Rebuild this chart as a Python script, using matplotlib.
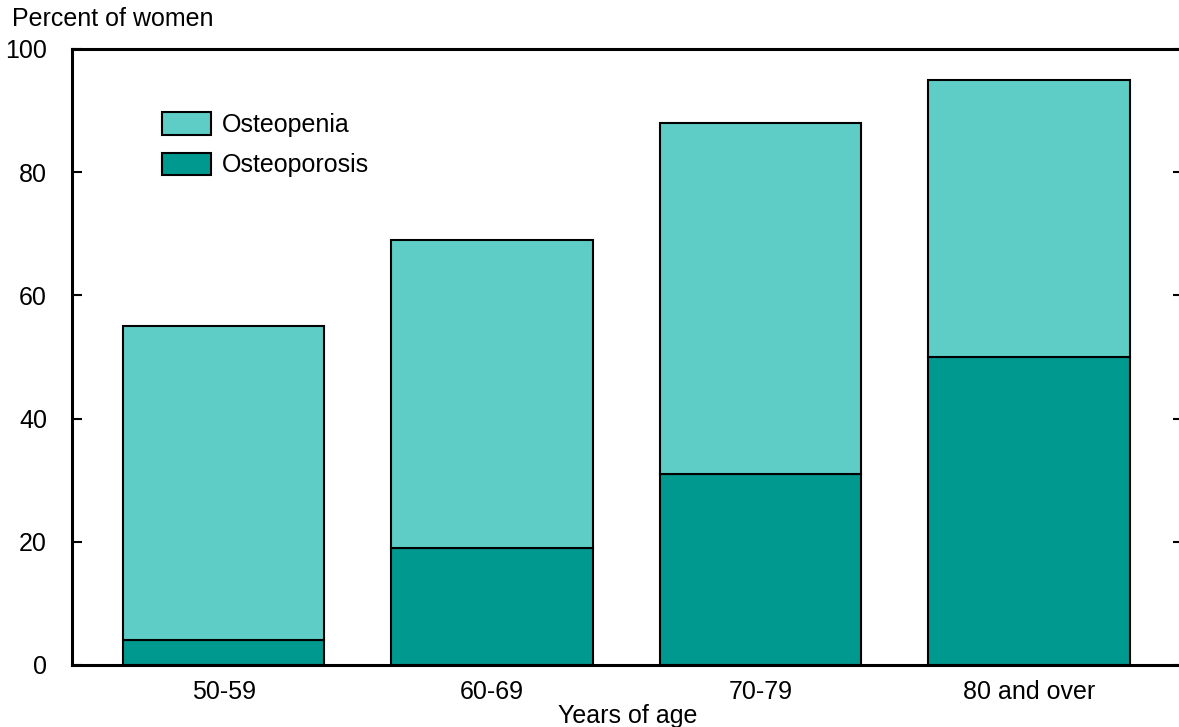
import matplotlib
matplotlib.use("Agg")
import matplotlib.pyplot as plt
from matplotlib.patches import Patch
import numpy as np

# values (percent of women)
age_groups = ["50-59", "60-69", "70-79", "80 and over"]
osteoporosis = [4, 19, 31, 50]
osteopenia = [51, 50, 57, 45]   # stacked on top; totals 55, 69, 88, 95
y_ticks = [0, 20, 40, 60, 80, 100]

LIGHT = "#5ECDC6"
DARK = "#00998F"
FS = 18

plt.rcParams["font.family"] = ["Liberation Sans", "DejaVu Sans"]

fig = plt.figure(figsize=(11.79, 7.27), dpi=100)
W, H = 1179, 727
ax = fig.add_axes([72 / W, (H - 665) / H, (1183 - 72) / W, (665 - 49) / H])

x = np.arange(len(age_groups))
ax.bar(x, osteoporosis, width=0.75, color=DARK, edgecolor="black", linewidth=1.5, zorder=2)
ax.bar(x, osteopenia, width=0.75, bottom=osteoporosis, color=LIGHT,
       edgecolor="black", linewidth=1.5, zorder=2)

ax.set_xlim(-0.565, 3.573)
ax.set_ylim(0, 100)
ax.set_yticks(y_ticks)
ax.set_xticks(x)
ax.set_xticklabels(age_groups)

for s in ax.spines.values():
    s.set_linewidth(2.2)
ax.tick_params(axis="y", direction="in", length=7, width=1.5, labelsize=FS, pad=18,
               right=True)
ax.tick_params(axis="x", length=0, labelsize=FS, pad=11)
ax.set_xlabel("Years of age", fontsize=FS, labelpad=0)

fig.text(12 / W, 1 - 19 / H, "Percent of women", fontsize=FS, va="center", ha="left")

handles = [Patch(facecolor=LIGHT, edgecolor="black", linewidth=1.5, label="Osteopenia"),
           Patch(facecolor=DARK, edgecolor="black", linewidth=1.5, label="Osteoporosis")]
ax.legend(handles=handles, loc="upper left", bbox_to_anchor=(0.081, 0.897), frameon=False,
          fontsize=FS, handlelength=1.96, handleheight=1.0, labelspacing=0.62,
          handletextpad=0.45, borderpad=0, borderaxespad=0)

fig.savefig("out.png", dpi=100, facecolor="white")
